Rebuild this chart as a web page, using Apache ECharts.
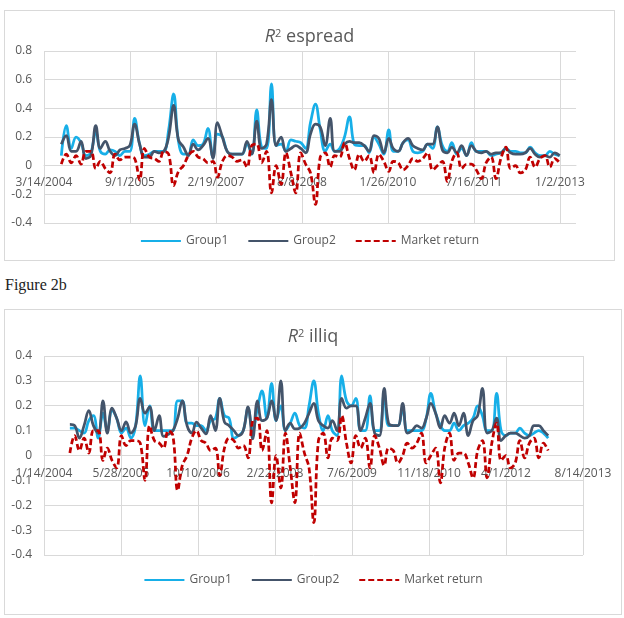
<!DOCTYPE html>
<html>

<head>
  <meta charset="utf-8" />
  <title>R2 espread and illiq</title>
  <script src="https://cdn.jsdelivr.net/npm/echarts@6/dist/echarts.min.js"></script>
  <style>
    body { margin: 0; background: #fff; }
    .box { position: absolute; box-sizing: border-box; border: 1px solid #d9d9d9; }
    .box div.chart { width: 100%; height: 100%; }
  </style>
</head>

<body>
  <div class="box" style="left:4px;top:10px;width:611px;height:251px;">
    <div id="espread" class="chart"></div>
  </div>
  <div style="position:absolute;left:5px;top:276px;font-family:'Liberation Serif',serif;font-size:16px;color:#222;">Figure 2b</div>
  <div class="box" style="left:4px;top:309px;width:618px;height:306px;">
    <div id="illiq" class="chart"></div>
  </div>
  <script type="text/javascript">

    // monthly observations, June 2004 .. December 2012 (month-end dates)
    let firstYear = 2004, firstMonth = 6, monthCount = 103;

    // Market return (same series on both charts)
    let marketReturn = [0.01, 0.08, 0.02, 0.07, 0.01, 0.10, 0.10, -0.02, 0.03, -0.02,
      -0.05, 0.08, 0.04, 0.06, 0.06, 0.05, -0.10, 0.12, 0.06, 0.05,
      0.03, 0.10, 0.08, -0.14, -0.04, 0.00, 0.07, 0.10, 0.06, 0.05,
      0.02, 0.03, -0.08, 0.03, 0.07, 0.06, 0.03, 0.04, -0.01, 0.14,
      0.15, 0.02, 0.10, -0.19, 0.00, -0.13, 0.09, -0.05, -0.19, 0.09,
      0.01, -0.05, -0.27, 0.06, 0.09, -0.01, 0.07, 0.06, 0.16, 0.05,
      -0.03, 0.08, 0.03, 0.07, -0.05, 0.08, 0.03, -0.04, 0.03, 0.02,
      -0.03, 0.00, 0.05, 0.03, 0.05, 0.09, -0.03, 0.00, 0.03, -0.11,
      0.03, 0.09, -0.02, 0.01, 0.01, -0.03, -0.09, 0.02, 0.06, -0.09,
      0.05, 0.13, -0.02, 0.00, -0.05, -0.03, 0.06, -0.01, 0.05, 0.07,
      -0.01, 0.05, 0.02];

    // R2 espread
    let espreadGroup1 = [0.07, 0.28, 0.12, 0.20, 0.16, 0.07, 0.09, 0.24, 0.10, 0.08,
      0.11, 0.10, 0.07, 0.10, 0.10, 0.33, 0.15, 0.07, 0.08, 0.10,
      0.10, 0.10, 0.25, 0.50, 0.17, 0.08, 0.08, 0.18, 0.14, 0.15,
      0.26, 0.06, 0.22, 0.20, 0.10, 0.08, 0.08, 0.08, 0.15, 0.08,
      0.39, 0.13, 0.12, 0.57, 0.14, 0.15, 0.10, 0.18, 0.17, 0.16,
      0.12, 0.30, 0.43, 0.25, 0.10, 0.15, 0.10, 0.12, 0.20, 0.34,
      0.15, 0.14, 0.14, 0.09, 0.20, 0.15, 0.08, 0.25, 0.10, 0.10,
      0.16, 0.18, 0.10, 0.09, 0.10, 0.15, 0.12, 0.27, 0.14, 0.10,
      0.16, 0.08, 0.12, 0.07, 0.16, 0.10, 0.10, 0.10, 0.07, 0.08,
      0.09, 0.12, 0.10, 0.10, 0.09, 0.09, 0.13, 0.09, 0.07, 0.07,
      0.10, 0.08, 0.07];
    let espreadGroup2 = [0.15, 0.21, 0.10, 0.10, 0.17, 0.05, 0.07, 0.28, 0.12, 0.17,
      0.10, 0.07, 0.11, 0.12, 0.14, 0.29, 0.15, 0.06, 0.06, 0.10,
      0.09, 0.10, 0.20, 0.42, 0.18, 0.13, 0.07, 0.15, 0.11, 0.14,
      0.19, 0.05, 0.30, 0.20, 0.10, 0.08, 0.08, 0.08, 0.17, 0.08,
      0.31, 0.12, 0.15, 0.46, 0.14, 0.20, 0.10, 0.12, 0.14, 0.12,
      0.09, 0.22, 0.29, 0.27, 0.14, 0.33, 0.10, 0.10, 0.15, 0.17,
      0.16, 0.16, 0.14, 0.10, 0.21, 0.19, 0.09, 0.19, 0.12, 0.10,
      0.16, 0.19, 0.14, 0.12, 0.11, 0.15, 0.15, 0.27, 0.11, 0.09,
      0.13, 0.09, 0.14, 0.07, 0.14, 0.10, 0.09, 0.10, 0.08, 0.09,
      0.09, 0.12, 0.09, 0.08, 0.08, 0.09, 0.12, 0.08, 0.06, 0.07,
      0.06, 0.09, 0.07];

    // R2 illiq
    let illiqGroup1 = [0.11, 0.11, 0.10, 0.09, 0.14, 0.16, 0.07, 0.17, 0.10, 0.18,
      0.15, 0.09, 0.11, 0.07, 0.12, 0.32, 0.12, 0.20, 0.10, 0.10,
      0.10, 0.10, 0.10, 0.22, 0.22, 0.13, 0.13, 0.12, 0.12, 0.10,
      0.14, 0.15, 0.23, 0.16, 0.15, 0.07, 0.08, 0.10, 0.19, 0.10,
      0.19, 0.26, 0.15, 0.29, 0.14, 0.20, 0.10, 0.13, 0.17, 0.12,
      0.11, 0.20, 0.30, 0.17, 0.10, 0.16, 0.10, 0.08, 0.32, 0.22,
      0.20, 0.23, 0.10, 0.10, 0.24, 0.10, 0.10, 0.25, 0.12, 0.12,
      0.12, 0.19, 0.10, 0.10, 0.10, 0.10, 0.15, 0.25, 0.17, 0.12,
      0.10, 0.10, 0.13, 0.10, 0.12, 0.13, 0.15, 0.20, 0.16, 0.10,
      0.10, 0.25, 0.10, 0.08, 0.09, 0.09, 0.11, 0.09, 0.08, 0.09,
      0.10, 0.09, 0.07];
    let illiqGroup2 = [0.125, 0.12, 0.07, 0.12, 0.18, 0.12, 0.09, 0.22, 0.09, 0.19,
      0.15, 0.10, 0.135, 0.09, 0.12, 0.23, 0.17, 0.195, 0.10, 0.16,
      0.077, 0.085, 0.10, 0.15, 0.22, 0.12, 0.09, 0.134, 0.11, 0.087,
      0.16, 0.10, 0.23, 0.134, 0.12, 0.10, 0.08, 0.10, 0.195, 0.067,
      0.22, 0.14, 0.15, 0.22, 0.14, 0.30, 0.10, 0.13, 0.107, 0.11,
      0.13, 0.17, 0.21, 0.14, 0.12, 0.11, 0.14, 0.10, 0.23, 0.19,
      0.20, 0.20, 0.10, 0.15, 0.21, 0.09, 0.08, 0.27, 0.13, 0.12,
      0.12, 0.21, 0.09, 0.10, 0.12, 0.11, 0.15, 0.21, 0.17, 0.11,
      0.16, 0.13, 0.17, 0.12, 0.17, 0.08, 0.14, 0.16, 0.27, 0.09,
      0.10, 0.15, 0.06, 0.08, 0.09, 0.09, 0.08, 0.07, 0.08, 0.12,
      0.12, 0.10, 0.08];

    let seriesNames = ['Group1', 'Group2', 'Market return'];
    let seriesColors = ['#17afe8', '#44546a', '#c00000'];

    const DAY = 86400000;
    let monthEnds = [];
    for (let k = 0; k < monthCount; k++) {
      monthEnds.push(Date.UTC(firstYear, firstMonth + k, 0));
    }

    function dateLabel(origin, days) {
      let d = new Date(origin + days * DAY);
      return (d.getUTCMonth() + 1) + '/' + d.getUTCDate() + '/' + d.getUTCFullYear();
    }

    let font = "'Open Sans', sans-serif";
    let grey = '#595959';
    let gridColor = '#d9d9d9';

    function buildOption(cfg, chartHeight) {
      let pairs = function (arr) {
        return monthEnds.map(function (t, k) { return [(t - cfg.origin) / DAY, arr[k]]; });
      };
      let ticks = Math.floor(cfg.maxDays / cfg.step) + 1;
      let splitColors = [];
      for (let k = 0; k < ticks; k++) splitColors.push(gridColor);
      if (cfg.maxDays % cfg.step !== 0) splitColors.push('rgba(0,0,0,0)');
      // the date axis sits on the zero line, like Excel does
      let plotHeight = chartHeight - cfg.grid.top - cfg.grid.bottom;
      let zeroOffset = -plotHeight * (0 - cfg.yMin) / (cfg.yMax - cfg.yMin);
      return {
        animation: false,
        textStyle: { fontFamily: font },
        title: {
          text: '{it|R}{sup|2} ' + cfg.title,
          left: 'center',
          top: cfg.titleTop,
          textStyle: {
            fontFamily: font, fontSize: 18, fontWeight: 'normal', color: grey,
            rich: {
              it: { fontFamily: font, fontSize: 18, fontStyle: 'italic', color: grey },
              sup: { fontFamily: font, fontSize: 11, verticalAlign: 'top', color: grey }
            }
          }
        },
        legend: {
          top: cfg.legendTop,
          left: 'center',
          itemWidth: 40,
          itemHeight: 10,
          itemGap: 19,
          itemStyle: { opacity: 0 },
          textStyle: { fontFamily: font, fontSize: 12, color: grey },
          data: seriesNames
        },
        grid: cfg.grid,
        xAxis: {
          type: 'value',
          min: 0,
          max: cfg.maxDays,
          interval: cfg.step,
          position: 'bottom',
          offset: zeroOffset,
          axisLine: { onZero: false, lineStyle: { color: gridColor, width: 1 } },
          axisTick: { show: false },
          axisLabel: {
            fontFamily: font, fontSize: 12, color: grey, margin: cfg.labelMargin,
            showMaxLabel: cfg.maxDays % cfg.step === 0,
            formatter: function (v) {
              return v % cfg.step === 0 ? dateLabel(cfg.origin, v) : '';
            }
          },
          splitLine: { show: true, lineStyle: { color: splitColors, width: 1 } }
        },
        yAxis: {
          type: 'value',
          min: cfg.yMin,
          max: cfg.yMax,
          interval: cfg.yStep,
          axisLine: { show: false, onZero: false },
          axisTick: { show: false },
          axisLabel: { fontFamily: font, fontSize: 12, color: grey, margin: 12 },
          splitLine: { lineStyle: { color: gridColor, width: 1 } }
        },
        series: [cfg.g1, cfg.g2, marketReturn].map(function (arr, k) {
          return {
            name: seriesNames[k],
            type: 'line',
            smooth: 0.4,
            symbol: 'none',
            color: seriesColors[k],
            lineStyle: { width: 2.75, color: seriesColors[k], type: k === 2 ? [6, 3] : 'solid' },
            data: pairs(arr)
          };
        })
      };
    }

    var chartEspread = echarts.init(document.getElementById('espread'));
    var chartIlliq = echarts.init(document.getElementById('illiq'));

    chartEspread.setOption(buildOption({
      title: 'espread',
      origin: Date.UTC(2004, 2, 14),
      step: 536,
      maxDays: 3316,
      yMin: -0.4, yMax: 0.8, yStep: 0.2,
      g1: espreadGroup1, g2: espreadGroup2,
      titleTop: 12,
      legendTop: 219,
      labelMargin: 11,
      grid: { left: 39, right: 38, top: 40, bottom: 37 }
    }, chartEspread.getHeight()));

    chartIlliq.setOption(buildOption({
      title: 'illiq',
      origin: Date.UTC(2004, 0, 14),
      step: 500,
      maxDays: 3500,
      yMin: -0.4, yMax: 0.4, yStep: 0.1,
      g1: illiqGroup1, g2: illiqGroup2,
      titleTop: 13,
      legendTop: 259,
      labelMargin: 12,
      grid: { left: 39, right: 38, top: 46, bottom: 59 }
    }, chartIlliq.getHeight()));
  </script>
</body>

</html>
